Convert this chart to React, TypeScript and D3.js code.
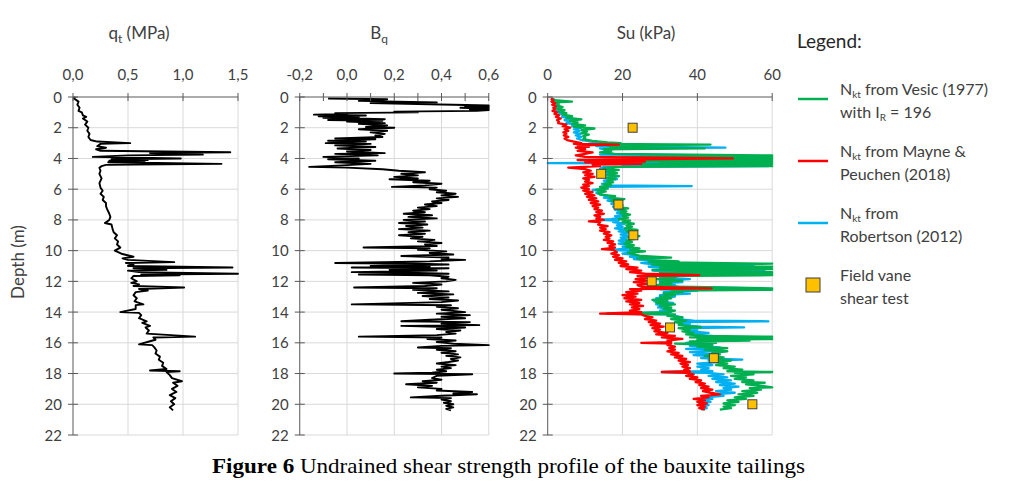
import React from "react";
import * as d3 from "d3";

const depthTicks = [0, 2, 4, 6, 8, 10, 12, 14, 16, 18, 20, 22];
const qtTicks = [0, 0.5, 1.0, 1.5];
const bqTicks = [-0.2, 0, 0.2, 0.4, 0.6];
const bqMinorTicks = [-0.2, -0.1, 0, 0.1, 0.2, 0.3, 0.4, 0.5, 0.6];
const suTicks = [0, 20, 40, 60];

// [depth (m), qt (MPa)]
const qtData: [number, number][] = [
  [0.0,0.02],[0.1,0.01],[0.3,0.05],[0.5,0.04],[0.7,0.06],[0.9,0.05],[1.0,0.08],[1.2,0.09],[1.3,0.12],[1.4,0.09],[1.6,0.13],[1.8,0.11],[2.0,0.14],[2.2,0.13],[2.4,0.15],[2.6,0.14],[2.8,0.16],[2.9,0.22],[3.0,0.52],[3.05,0.25],[3.2,0.22],[3.3,0.3],[3.4,0.21],[3.5,0.25],[3.6,1.43],[3.65,0.7],[3.75,1.18],[3.8,0.5],[3.9,0.18],[4.0,0.98],[4.05,0.35],[4.1,0.68],[4.15,0.33],[4.2,0.65],[4.25,0.32],[4.35,1.35],[4.42,0.3],[4.5,0.26],[4.6,0.24],[4.8,0.25],[5.0,0.24],[5.3,0.26],[5.6,0.24],[5.9,0.25],[6.1,0.27],[6.3,0.25],[6.5,0.28],[6.7,0.27],[6.9,0.3],[7.1,0.3],[7.3,0.31],[7.6,0.33],[7.8,0.34],[8.0,0.33],[8.2,0.29],[8.3,0.35],[8.6,0.36],[8.8,0.37],[9.0,0.4],[9.2,0.38],[9.4,0.41],[9.6,0.4],[9.8,0.43],[10.0,0.38],[10.2,0.44],[10.4,0.55],[10.5,0.45],[10.6,0.5],[10.75,0.92],[10.8,0.48],[10.9,0.55],[11.0,0.5],[11.1,1.45],[11.15,0.55],[11.25,0.85],[11.3,0.5],[11.4,0.6],[11.5,1.5],[11.55,0.62],[11.6,0.97],[11.65,0.55],[11.8,0.53],[12.0,0.58],[12.1,0.53],[12.2,0.6],[12.3,0.55],[12.4,1.01],[12.5,0.6],[12.6,0.68],[12.7,0.57],[12.9,0.55],[13.1,0.58],[13.3,0.56],[13.5,0.64],[13.55,0.57],[13.8,0.57],[14.0,0.43],[14.05,0.6],[14.2,0.62],[14.4,0.6],[14.6,0.67],[14.7,0.63],[14.9,0.7],[15.0,0.66],[15.2,0.69],[15.4,0.67],[15.6,1.11],[15.65,0.73],[15.8,0.75],[15.9,0.7],[16.1,0.6],[16.15,0.72],[16.3,0.74],[16.5,0.76],[16.7,0.75],[16.9,0.79],[17.1,0.78],[17.3,0.82],[17.5,0.81],[17.7,0.85],[17.8,0.7],[17.85,0.97],[17.9,0.85],[18.1,0.88],[18.3,0.9],[18.5,0.99],[18.6,0.91],[18.8,0.95],[19.0,0.9],[19.2,0.94],[19.4,0.88],[19.6,0.93],[19.8,0.89],[20.0,0.92],[20.2,0.88],[20.4,0.91]
];

// [depth (m), Bq]
const bqData: [number, number][] = [
  [0.1,-0.08],[0.15,0.17],[0.25,0.05],[0.35,0.38],[0.4,0.1],[0.5,0.45],[0.55,0.6],[0.6,0.5],[0.65,0.6],[0.7,0.48],[0.75,0.6],[0.8,0.52],[0.85,0.6],[0.9,0.55],[0.95,0.2],[1.0,0.3],[1.05,-0.05],[1.1,0.0],[1.15,-0.14],[1.2,0.08],[1.25,-0.12],[1.3,0.05],[1.35,-0.1],[1.45,0.16],[1.5,-0.08],[1.55,0.15],[1.6,0.0],[1.7,0.16],[1.75,0.05],[1.85,0.17],[1.95,0.08],[2.0,0.2],[2.1,0.05],[2.2,0.17],[2.3,0.1],[2.4,0.16],[2.5,0.12],[2.6,0.15],[2.7,-0.05],[2.75,0.12],[2.85,-0.08],[2.9,0.08],[3.0,-0.09],[3.05,0.1],[3.15,-0.05],[3.25,0.12],[3.35,-0.04],[3.45,0.1],[3.55,0.0],[3.65,0.16],[3.7,-0.05],[3.8,0.13],[3.9,-0.1],[4.0,0.05],[4.05,-0.08],[4.15,0.12],[4.25,-0.05],[4.35,0.1],[4.45,-0.02],[4.55,-0.16],[4.6,0.0],[4.7,0.15],[4.8,0.22],[4.9,0.33],[5.0,0.23],[5.1,0.3],[5.2,0.2],[5.3,0.3],[5.35,0.18],[5.45,0.35],[5.55,0.28],[5.65,0.4],[5.75,0.33],[5.85,0.19],[5.9,0.38],[6.0,0.35],[6.1,0.42],[6.2,0.38],[6.3,0.46],[6.4,0.4],[6.5,0.47],[6.6,0.38],[6.7,0.43],[6.8,0.36],[6.9,0.4],[7.0,0.33],[7.1,0.38],[7.2,0.3],[7.3,0.35],[7.4,0.28],[7.5,0.33],[7.6,0.24],[7.7,0.36],[7.8,0.26],[7.9,0.38],[8.0,0.24],[8.1,0.33],[8.2,0.22],[8.3,0.34],[8.4,0.25],[8.5,0.32],[8.6,0.22],[8.7,0.35],[8.8,0.26],[8.9,0.33],[9.0,0.22],[9.1,0.32],[9.2,0.27],[9.3,0.37],[9.4,0.3],[9.5,0.4],[9.6,0.33],[9.7,0.38],[9.8,0.07],[9.85,0.35],[9.95,0.3],[10.05,0.42],[10.15,0.35],[10.25,0.45],[10.35,0.23],[10.45,0.43],[10.55,0.4],[10.6,0.5],[10.7,0.35],[10.8,-0.05],[10.85,0.3],[10.9,0.43],[11.0,0.1],[11.05,0.35],[11.1,0.02],[11.15,0.43],[11.25,0.18],[11.3,0.38],[11.4,0.02],[11.45,0.3],[11.5,0.43],[11.55,0.05],[11.6,0.35],[11.7,0.43],[11.8,0.4],[11.9,0.46],[12.0,0.42],[12.1,0.28],[12.2,0.4],[12.3,0.33],[12.4,0.03],[12.45,0.38],[12.55,0.28],[12.65,0.43],[12.75,0.3],[12.85,0.45],[12.95,0.32],[13.05,0.43],[13.15,0.35],[13.25,0.47],[13.35,0.4],[13.5,0.02],[13.55,0.44],[13.65,0.38],[13.75,0.47],[13.85,0.4],[14.0,0.5],[14.1,0.38],[14.2,0.52],[14.3,0.4],[14.4,0.5],[14.5,0.35],[14.6,0.23],[14.65,0.52],[14.75,0.4],[14.85,0.56],[14.9,0.23],[15.0,0.5],[15.1,0.38],[15.2,0.48],[15.3,0.42],[15.4,0.46],[15.5,0.38],[15.6,0.05],[15.65,0.4],[15.75,0.34],[15.85,0.46],[15.95,0.38],[16.05,0.45],[16.15,0.6],[16.2,0.4],[16.3,0.3],[16.35,0.44],[16.45,0.38],[16.55,0.46],[16.65,0.4],[16.75,0.47],[16.85,0.42],[16.95,0.48],[17.05,0.44],[17.15,0.47],[17.25,0.43],[17.35,0.38],[17.45,0.46],[17.55,0.4],[17.65,0.44],[17.75,0.38],[17.85,0.42],[17.95,0.36],[18.0,0.2],[18.05,0.53],[18.15,0.38],[18.3,0.36],[18.4,0.4],[18.5,0.32],[18.6,0.38],[18.7,0.25],[18.8,0.36],[18.9,0.3],[19.0,0.4],[19.1,0.38],[19.2,0.53],[19.3,0.45],[19.35,0.55],[19.45,0.4],[19.55,0.27],[19.6,0.44],[19.7,0.4],[19.8,0.44],[19.9,0.41],[20.0,0.45],[20.1,0.42],[20.2,0.45],[20.3,0.42],[20.4,0.44]
];

// [depth (m), Su (kPa)] - Nkt from Vesic (1977), IR = 196
const suVesic: [number, number][] = [
  [0.1,1],[0.2,2],[0.3,6.5],[0.35,2],[0.45,3],[0.55,2.5],[0.65,4],[0.75,2.5],[0.85,4.5],[0.95,3],[1.05,5],[1.15,4],[1.25,6.5],[1.35,5],[1.45,9],[1.55,6],[1.65,8],[1.75,6.5],[1.85,10],[1.95,7],[2.05,12.5],[2.15,9],[2.25,10.5],[2.35,9],[2.45,11],[2.55,9.5],[2.65,10],[2.75,9.5],[2.85,12],[2.95,16],[3.0,19.5],[3.05,14],[3.1,43.5],[3.15,16],[3.25,17],[3.35,42],[3.4,15],[3.5,17],[3.6,14],[3.7,18],[3.8,60],[3.85,25],[3.9,60],[3.95,20],[4.0,60],[4.05,28],[4.1,60],[4.15,25],[4.2,60],[4.25,30],[4.3,60],[4.35,22],[4.4,60],[4.45,25],[4.5,60],[4.55,18],[4.65,15],[4.75,19],[4.85,16],[4.95,18.5],[5.05,16],[5.15,19],[5.25,15.5],[5.35,18],[5.45,16],[5.55,17.5],[5.65,15],[5.75,17],[5.85,14],[5.95,16],[6.05,13],[6.15,15.5],[6.25,13.5],[6.35,14],[6.45,18],[6.55,16.5],[6.65,20.5],[6.75,17],[6.85,19],[6.95,18],[7.05,20],[7.15,18.5],[7.25,21.5],[7.35,19],[7.45,21],[7.55,19.5],[7.65,22],[7.75,20],[7.85,21.5],[7.95,19],[8.05,22],[8.15,20],[8.25,23],[8.35,21],[8.45,22.5],[8.55,20.5],[8.65,24],[8.75,21],[8.85,23.5],[8.95,22],[9.05,24.5],[9.15,21.5],[9.25,23],[9.35,21],[9.45,22.5],[9.55,20.5],[9.65,23],[9.75,21],[9.85,24.5],[9.95,22],[10.05,26],[10.15,21.5],[10.25,23],[10.35,25],[10.45,33],[10.5,24],[10.6,28],[10.7,35],[10.75,27],[10.85,60],[10.9,28],[11.0,33],[11.05,60],[11.1,30],[11.2,60],[11.25,28],[11.3,35],[11.4,60],[11.45,30],[11.5,60],[11.55,32],[11.6,60],[11.65,30],[11.75,34],[11.85,29],[11.95,36],[12.05,30],[12.15,33],[12.25,29],[12.35,35],[12.45,60],[12.5,30],[12.55,60],[12.6,33],[12.7,36],[12.8,31],[12.9,34],[13.0,30],[13.1,33],[13.2,28],[13.3,32],[13.4,29],[13.5,34],[13.6,30],[13.7,33],[13.8,31],[13.9,34],[14.0,32],[14.1,16],[14.15,34],[14.25,32],[14.35,36],[14.45,33],[14.55,37],[14.65,34],[14.75,36],[14.85,35],[15.0,41],[15.05,35],[15.15,38],[15.25,36],[15.35,39],[15.45,37],[15.55,42],[15.6,60],[15.65,38],[15.75,60],[15.8,40],[15.85,54],[15.9,38],[16.0,45],[16.05,34],[16.15,44],[16.25,40],[16.35,48],[16.45,42],[16.55,48],[16.65,44],[16.75,46],[16.85,42],[16.95,47],[17.05,44],[17.15,49],[17.25,45],[17.35,48],[17.45,45],[17.55,50],[17.65,47],[17.75,52],[17.85,48],[17.9,60],[17.95,50],[18.05,55],[18.15,49],[18.25,53],[18.35,50],[18.45,55],[18.55,52],[18.6,58],[18.7,53],[18.8,57],[18.9,60],[18.95,54],[19.05,57],[19.15,52],[19.25,56],[19.35,51],[19.45,55],[19.55,50],[19.65,53],[19.75,48],[19.85,51],[19.95,47],[20.05,50],[20.15,47],[20.25,49],[20.35,46]
];

// Nkt from Mayne & Peuchen (2018)
const suMayne: [number, number][] = [
  [0.1,0.8],[0.2,1.5],[0.3,1],[0.4,2],[0.5,1.2],[0.6,2.2],[0.7,1.5],[0.8,2],[0.9,1.3],[1.0,2.5],[1.1,1.8],[1.2,3],[1.3,2.2],[1.4,3.5],[1.5,2.5],[1.6,3],[1.7,2.8],[1.8,5],[1.9,4],[2.0,6],[2.1,4.5],[2.2,5.5],[2.3,4.2],[2.4,5],[2.5,4.3],[2.6,5.5],[2.7,4.5],[2.8,5.2],[2.9,7],[3.0,9],[3.05,7],[3.1,19],[3.15,8],[3.25,11],[3.3,7.5],[3.4,10],[3.5,8],[3.6,12],[3.7,10],[3.8,7.5],[3.9,10],[4.0,49.5],[4.05,30],[4.1,8],[4.2,26],[4.25,10],[4.35,25],[4.4,12],[4.5,14],[4.6,5.5],[4.7,10],[4.8,11.5],[4.9,9.5],[5.0,12],[5.1,10],[5.2,12.5],[5.3,9.5],[5.4,11],[5.5,10],[5.6,12],[5.7,9.5],[5.8,11],[5.9,9],[6.0,11],[6.1,9.5],[6.2,12],[6.3,10],[6.4,12.5],[6.5,10.5],[6.6,13],[6.7,11],[6.8,13.5],[6.9,11.5],[7.0,14],[7.1,12],[7.2,13.5],[7.3,12.5],[7.4,14.5],[7.5,13],[7.6,15],[7.7,12.5],[7.8,14],[7.9,13],[8.0,15],[8.1,11],[8.15,14],[8.3,13.5],[8.4,16],[8.5,14],[8.6,15.5],[8.7,14],[8.8,16.5],[8.9,15],[9.0,17],[9.1,15.5],[9.2,16.5],[9.3,15],[9.4,17.5],[9.5,16],[9.6,18],[9.7,16.5],[9.8,18],[9.9,14.5],[9.95,17.5],[10.1,18.5],[10.2,17],[10.3,19],[10.4,17.5],[10.5,20],[10.6,18],[10.7,21],[10.8,19],[10.9,21.5],[11.0,19.5],[11.1,24],[11.2,21],[11.3,25],[11.4,22],[11.5,26],[11.6,40.5],[11.65,24],[11.75,27],[11.85,23.5],[11.95,26.5],[12.05,23],[12.15,27],[12.25,24],[12.35,25],[12.45,43.8],[12.5,22],[12.6,25],[12.7,21],[12.8,24],[12.9,20],[13.0,23.5],[13.1,20.5],[13.2,25],[13.3,21],[13.4,24.5],[13.5,22],[13.6,25.5],[13.7,22.5],[13.8,24.5],[13.9,22],[14.0,25],[14.1,14],[14.15,25],[14.25,26],[14.35,28],[14.45,26],[14.55,29],[14.65,27],[14.75,30],[14.85,27.5],[14.95,31],[15.05,28],[15.15,30],[15.25,28.5],[15.35,32],[15.45,29],[15.55,34],[15.65,30.5],[15.75,36],[15.85,32],[15.95,33],[16.0,25],[16.05,33],[16.15,32],[16.25,34],[16.35,32.5],[16.45,34],[16.55,32],[16.65,35],[16.75,33],[16.85,36],[16.95,34],[17.05,37],[17.15,35],[17.25,38],[17.35,35.5],[17.45,37.5],[17.55,36],[17.65,38],[17.75,36.5],[17.85,38],[17.9,30.5],[17.95,37],[18.05,39],[18.15,37],[18.25,40],[18.35,38],[18.45,41],[18.55,39.5],[18.65,42],[18.75,40.5],[18.85,43],[18.95,41],[19.05,44],[19.15,41.5],[19.25,43.5],[19.35,46],[19.45,41],[19.55,43],[19.65,39],[19.75,42],[19.85,40],[19.95,42.5],[20.05,40],[20.15,42],[20.25,40.5],[20.35,42]
];

// Nkt from Robertson (2012)
const suRobertson: [number, number][] = [
  [0.1,1],[0.2,1.8],[0.3,1.2],[0.4,2.5],[0.5,1.8],[0.6,3],[0.7,2],[0.8,3.2],[0.9,2.4],[1.0,3.8],[1.1,3],[1.2,5],[1.3,3.8],[1.4,6.5],[1.5,4.5],[1.6,6],[1.7,5],[1.8,8],[1.9,6.5],[2.0,9],[2.1,7],[2.2,8.5],[2.3,7],[2.4,8.8],[2.5,7.5],[2.6,9],[2.7,7.8],[2.8,9],[2.9,12],[3.0,15],[3.05,11],[3.1,18],[3.2,13],[3.3,47.5],[3.35,14],[3.45,16],[3.55,15],[3.65,17],[3.75,14],[3.8,50],[3.9,20],[4.0,55],[4.1,15],[4.2,58],[4.3,0],[4.35,58],[4.45,20],[4.5,59],[4.55,15],[4.65,14],[4.75,17],[4.85,15],[4.95,18],[5.05,15.5],[5.15,19],[5.25,16],[5.35,18.5],[5.45,15],[5.55,17],[5.65,14.5],[5.75,16],[5.8,38.5],[5.85,14],[5.95,16],[6.05,12],[6.15,15],[6.25,13],[6.35,14.5],[6.45,16],[6.55,15],[6.65,18],[6.75,16],[6.85,18],[6.95,17],[7.05,19.5],[7.15,17.5],[7.25,20.5],[7.35,18],[7.45,20],[7.55,18.5],[7.65,21],[7.75,18],[7.85,19.5],[7.95,17],[8.0,13],[8.05,19],[8.15,17.5],[8.25,20.5],[8.35,18.5],[8.45,20],[8.55,18],[8.65,21],[8.75,19],[8.85,21.5],[8.95,19.5],[9.05,22],[9.15,19.5],[9.25,21],[9.35,19],[9.45,21.5],[9.55,19],[9.65,22],[9.75,20],[9.85,22],[9.95,17],[10.0,21],[10.1,23],[10.2,20],[10.3,24],[10.4,22],[10.5,30],[10.55,23],[10.65,27],[10.75,33],[10.8,25],[10.9,28],[11.0,55],[11.05,27],[11.15,32],[11.25,58],[11.3,28],[11.4,33],[11.5,57],[11.55,29],[11.65,35],[11.75,30],[11.85,38],[11.95,30],[12.05,36],[12.15,30],[12.25,34],[12.35,31],[12.45,56.8],[12.5,29],[12.6,40],[12.7,31],[12.8,38],[12.9,30],[13.0,34],[13.1,29],[13.2,32],[13.3,28.5],[13.4,33.5],[13.5,29],[13.6,32],[13.7,29.5],[13.8,33],[13.9,30],[14.0,33],[14.1,16],[14.15,32],[14.25,34],[14.35,36],[14.45,34],[14.55,39],[14.6,59],[14.65,35],[14.75,38],[14.85,36],[14.95,41],[15.0,52.5],[15.05,37],[15.15,40],[15.25,38],[15.35,43],[15.45,39],[15.55,44],[15.65,40],[15.75,46],[15.85,51],[15.9,40],[16.0,37],[16.1,44],[16.2,38],[16.3,46],[16.4,37],[16.5,45],[16.6,38],[16.7,44],[16.8,39],[16.9,46],[17.0,41],[17.1,52],[17.15,43],[17.25,45],[17.35,40],[17.45,44],[17.55,40],[17.65,43],[17.75,41],[17.85,44],[17.9,30.5],[17.95,43],[18.05,47],[18.15,43],[18.25,48],[18.35,44],[18.45,49],[18.55,45],[18.65,50],[18.75,46],[18.85,51],[18.95,47],[19.05,49],[19.15,45],[19.25,50],[19.35,44],[19.45,47],[19.55,42],[19.65,44],[19.75,41],[19.85,43.5],[19.95,40.5],[20.05,43],[20.15,41],[20.25,42.5],[20.35,41]
];

// Field vane shear test [depth, Su]
const vaneData: [number, number][] = [
  [2, 22.7],[5, 14.3],[7, 18.9],[9, 22.9],[12, 27.8],[15, 32.7],[17, 44.4],[20, 54.7]
];

const legendItems = [
  { lines: ["Nkt from Vesic (1977)", "with IR = 196"], color: "#00B050", kind: "line" },
  { lines: ["Nkt from Mayne &", "Peuchen (2018)"], color: "#FF0000", kind: "line" },
  { lines: ["Nkt from", "Robertson (2012)"], color: "#00B0F0", kind: "line" },
  { lines: ["Field vane", "shear test"], color: "#FFC000", kind: "square" },
];

const FONT = "Lato, 'Open Sans', sans-serif";
const TXT = "#404040";
const GRID = "#D9D9D9";
const AXIS = "#595959";

const yTop = 97;
const yBot = 435;
const yScale = d3.scaleLinear().domain([0, 22]).range([yTop, yBot]);

type PanelProps = {
  x0: number; x1: number; domain: [number, number];
  ticks: number[]; minor?: number[]; fmt: (v: number) => string;
  title: React.ReactNode; titleX: number;
  children: (x: d3.ScaleLinear<number, number>) => React.ReactNode;
};

function Panel({ x0, x1, domain, ticks, minor, fmt, title, titleX, children }: PanelProps) {
  const x = d3.scaleLinear().domain(domain).range([x0, x1]);
  const tickMarks = minor || ticks;
  return (
    <g>
      {ticks.slice(1).map((t) => (
        <line key={"vg" + t} x1={x(t)} x2={x(t)} y1={yTop} y2={yBot} stroke={GRID} strokeWidth={1} />
      ))}
      {depthTicks.slice(1).map((t) => (
        <line key={"hg" + t} x1={x0} x2={x1} y1={yScale(t)} y2={yScale(t)} stroke={GRID} strokeWidth={1} />
      ))}
      {children(x)}
      <line x1={x0} x2={x1} y1={yTop} y2={yTop} stroke={AXIS} strokeWidth={1} />
      <line x1={x0} x2={x0} y1={yTop} y2={yBot} stroke={AXIS} strokeWidth={1} />
      {tickMarks.map((t) => (
        <line key={"xt" + t} x1={x(t)} x2={x(t)} y1={yTop - 4} y2={yTop + 4} stroke={AXIS} strokeWidth={1} />
      ))}
      {depthTicks.map((t) => (
        <line key={"yt" + t} x1={x0 - 5} x2={x0 + 5} y1={yScale(t)} y2={yScale(t)} stroke={AXIS} strokeWidth={1} />
      ))}
      {ticks.map((t) => (
        <text key={"xl" + t} x={x(t)} y={80} textAnchor="middle" fontSize={15} fill={TXT} fontFamily={FONT}>{fmt(t)}</text>
      ))}
      {depthTicks.map((t) => (
        <text key={"yl" + t} x={x0 - 11} y={yScale(t) + 5.5} textAnchor="end" fontSize={15} fill={TXT} fontFamily={FONT}>{t}</text>
      ))}
      <text x={titleX} y={39} textAnchor="middle" fontSize={17} fill={TXT} fontFamily={FONT}>{title}</text>
    </g>
  );
}

export default function App() {
  const comma1 = (v: number) => d3.format(".1f")(v).replace(".", ",").replace("−", "-");
  const lineGen = (x: d3.ScaleLinear<number, number>) =>
    d3.line<[number, number]>().x((d) => x(d[1])).y((d) => yScale(d[0]));

  return (
    <svg width={1024} height={503} style={{ position: "absolute", left: 0, top: 0, background: "#fff" }}>
      <rect x={0} y={0} width={1024} height={503} fill="#fff" />
      <Panel x0={73} x1={238} domain={[0, 1.5]} ticks={qtTicks} fmt={comma1}
        title={<tspan>q<tspan fontSize={12} dy={4}>t</tspan><tspan dy={-4}> (MPa)</tspan></tspan>} titleX={139}>
        {(x) => <path d={lineGen(x)(qtData) || ""} fill="none" stroke="#000" strokeWidth={1.9} strokeLinejoin="round" />}
      </Panel>
      <Panel x0={299.75} x1={488.75} domain={[-0.2, 0.6]} ticks={bqTicks} minor={bqMinorTicks} fmt={comma1}
        title={<tspan>B<tspan fontSize={12} dy={4}>q</tspan></tspan>} titleX={379}>
        {(x) => <path d={lineGen(x)(bqData) || ""} fill="none" stroke="#000" strokeWidth={1.9} strokeLinejoin="round" />}
      </Panel>
      <Panel x0={547.7} x1={772.2} domain={[0, 60]} ticks={suTicks} fmt={(v) => String(v)}
        title="Su (kPa)" titleX={646}>
        {(x) => (
          <g>
            <path d={lineGen(x)(suRobertson) || ""} fill="none" stroke="#00B0F0" strokeWidth={2.3} strokeLinejoin="round" />
            <path d={lineGen(x)(suVesic) || ""} fill="none" stroke="#00B050" strokeWidth={2.3} strokeLinejoin="round" />
            <path d={lineGen(x)(suMayne) || ""} fill="none" stroke="#FF0000" strokeWidth={2.3} strokeLinejoin="round" />
            {vaneData.map((d, i) => (
              <rect key={i} x={x(d[1]) - 4.5} y={yScale(d[0]) - 4.5} width={9} height={9} fill="#FFC000" stroke="#404040" strokeWidth={1} />
            ))}
          </g>
        )}
      </Panel>
      <text x={20} y={262} transform="rotate(-90 20 262)" textAnchor="middle" dominantBaseline="middle" fontSize={17} fill={TXT} fontFamily={FONT}>Depth (m)</text>

      <text x={797} y={48} fontSize={19} fill="#262626" fontFamily={FONT}>Legend:</text>
      {legendItems.map((it, i) => {
        const cy = 99 + i * 62;
        const sub = (s: string) => {
          if (s.startsWith("Nkt")) {
            return (<>N<tspan fontSize={10} dy={3}>kt</tspan><tspan dy={-3}>{s.slice(3)}</tspan></>);
          }
          if (s.includes("IR")) {
            const [a, b] = s.split("IR");
            return (<>{a}I<tspan fontSize={10} dy={3}>R</tspan><tspan dy={-3}>{b}</tspan></>);
          }
          return s;
        };
        return (
          <g key={i}>
            {it.kind === "line" ? (
              <line x1={798} x2={828} y1={cy} y2={cy} stroke={it.color} strokeWidth={2.5} />
            ) : (
              <rect x={806} y={cy - 7} width={14} height={14} fill={it.color} stroke="#404040" strokeWidth={1} />
            )}
            <text x={840} y={cy - 4} fontSize={16} fill={TXT} fontFamily={FONT}>{sub(it.lines[0])}</text>
            <text x={840} y={cy + 19} fontSize={16} fill={TXT} fontFamily={FONT}>{sub(it.lines[1])}</text>
          </g>
        );
      })}

      <text x={212} y={473} fontSize={21} fill="#000" textLength={593} lengthAdjust="spacingAndGlyphs" fontFamily="'Liberation Serif', 'DejaVu Serif', serif">
        <tspan fontWeight="bold">Figure 6</tspan> Undrained shear strength profile of the bauxite tailings
      </text>
    </svg>
  );
}
